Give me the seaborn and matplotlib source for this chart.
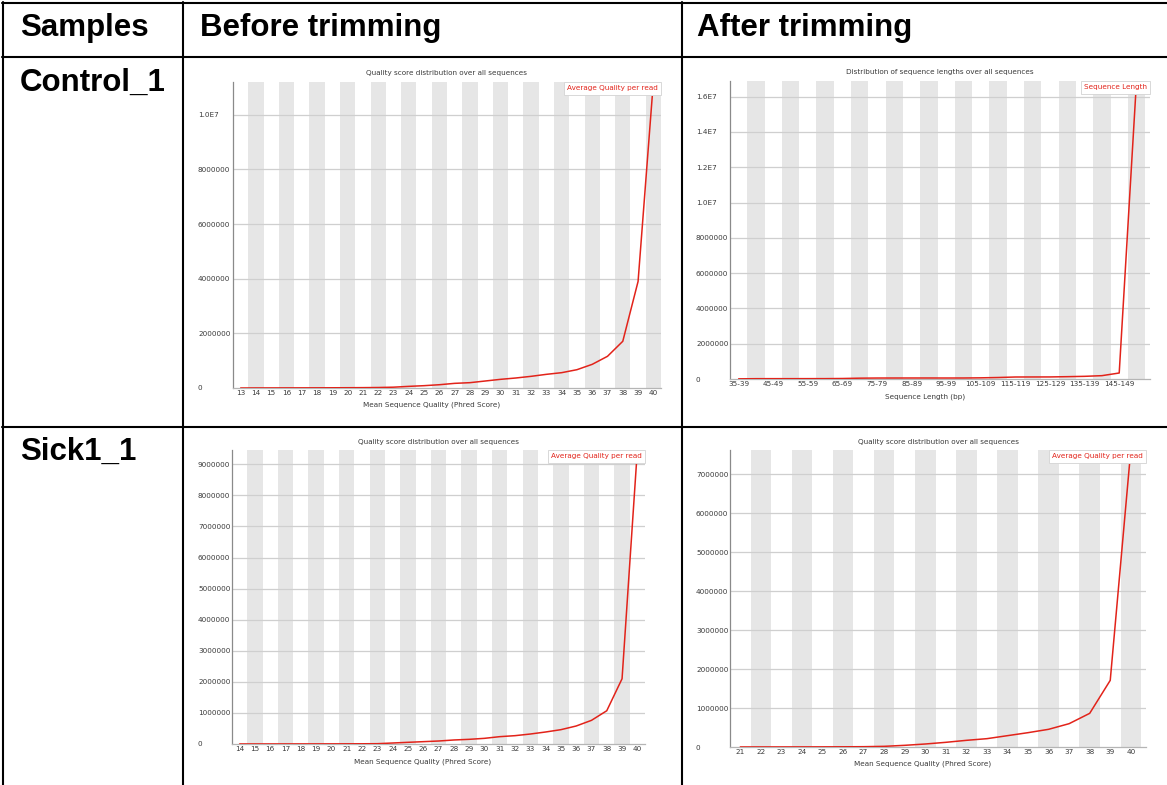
import numpy as np
import pandas as pd
import seaborn as sns
import matplotlib
matplotlib.use('Agg')
import matplotlib.pyplot as plt
from matplotlib.lines import Line2D

# Data
ctrl_before_q = [str(q) for q in range(13, 41)]
ctrl_before_counts = [0, 2000, 3000, 4000, 5000, 6000, 8000, 10000, 13000, 18000,
                      30000, 60000, 85000, 120000, 170000, 195000, 256000, 317000,
                      366000, 427000, 500000, 561000, 670000, 866000, 1160000,
                      1710000, 3900000, 11200000]

ctrl_after_len = ['35-39', '40-44', '45-49', '50-54', '55-59', '60-64', '65-69',
                  '70-74', '75-79', '80-84', '85-89', '90-94', '95-99', '100-104',
                  '105-109', '110-114', '115-119', '120-124', '125-129', '130-134',
                  '135-139', '140-144', '145-149', '150-151']
ctrl_after_counts = [9000, 18000, 19000, 19000, 20000, 21000, 28000, 47000, 55000,
                     56000, 57000, 57000, 56000, 57000, 66000, 85000, 113000, 115000,
                     117000, 132000, 151000, 189000, 340000, 16890000]

sick_before_q = [str(q) for q in range(14, 41)]
sick_before_counts = [1000, 1500, 2000, 2500, 3000, 3500, 4500, 5500, 7000, 10000,
                      32000, 54000, 75000, 96000, 129000, 150000, 182000, 236000,
                      268000, 321000, 386000, 461000, 579000, 761000, 1070000,
                      2100000, 9460000]

sick_after_q = [str(q) for q in range(21, 41)]
sick_after_counts = [1000, 1500, 2000, 2500, 3500, 5000, 8000, 17000, 43000, 77000,
                     120000, 171000, 214000, 291000, 368000, 454000, 599000, 864000,
                     1711000, 7625000]

yticks_ctrl_before = [0, 2e6, 4e6, 6e6, 8e6, 1e7]
yticks_ctrl_after = [0, 2e6, 4e6, 6e6, 8e6, 1e7, 1.2e7, 1.4e7, 1.6e7]
yticks_sick_before = [0, 1e6, 2e6, 3e6, 4e6, 5e6, 6e6, 7e6, 8e6, 9e6]
yticks_sick_after = [0, 1e6, 2e6, 3e6, 4e6, 5e6, 6e6, 7e6]

header = ['Samples', 'Before trimming', 'After trimming']
samples = ['Control_1', 'Sick1_1']

qual_title = 'Quality score distribution over all sequences'
len_title = 'Distribution of sequence lengths over all sequences'
qual_xlabel = 'Mean Sequence Quality (Phred Score)'
len_xlabel = 'Sequence Length (bp)'

sns.set_style('white')
plt.rcParams['font.family'] = ['DejaVu Sans']

W, H = 1167, 785
RED = '#e2231a'
TXT = '#3a3a3a'

fig = plt.figure(figsize=(W / 100, H / 100), dpi=100)


def ytick_text(v):
    if v >= 1e7:
        return f'{v / 1e7:.1f}E7'
    return str(int(v))


def panel(box, labels, counts, yticks, title, xlabel, legend_label,
          xmax, label_every, ylab_x, title_y, xlab_x, xlab_y):
    l, t, r, b = box
    ax = fig.add_axes([l / W, 1 - b / H, (r - l) / W, (b - t) / H])
    df = pd.DataFrame({'pos': np.arange(len(counts)), 'count': counts})

    # alternating grey bands behind every other category
    for i in range(1, len(counts), 2):
        ax.axvspan(i - 0.5, i + 0.5, color='#e6e6e6', lw=0, zorder=0)
    for v in yticks[1:]:
        ax.axhline(v, color='#cfcfcf', lw=0.9, zorder=1)

    sns.lineplot(data=df, x='pos', y='count', ax=ax, color=RED, lw=1.1,
                 zorder=3, label=legend_label)

    ax.set_xlim(-0.5, xmax)
    ax.set_ylim(0, max(counts))
    ax.set_xticks(df['pos'][::label_every])
    ax.set_xticklabels(labels[::label_every])
    ax.set_yticks(yticks)
    ax.set_yticklabels([ytick_text(v) for v in yticks])
    pad = (l - ylab_x) * 72 / 100
    ax.tick_params(axis='y', length=0, pad=pad, labelsize=5.2, labelcolor=TXT)
    ax.tick_params(axis='x', length=0, pad=1.5, labelsize=5.2, labelcolor=TXT)
    for lab in ax.get_yticklabels():
        lab.set_ha('left')
    ax.set_ylabel('')
    ax.set_xlabel(xlabel, fontsize=5.2, color=TXT, va='center')
    ax.xaxis.set_label_coords((xlab_x - l) / (r - l), -(xlab_y - b) / (b - t))
    ax.set_title('')
    fig.text((l + r) / 2 / W, 1 - title_y / H, title, fontsize=5.2, color=TXT,
             ha='center', va='center')

    for s in ['top', 'right']:
        ax.spines[s].set_visible(False)
    ax.spines['left'].set_color('#8a8a8a')
    ax.spines['left'].set_linewidth(0.9)
    ax.spines['bottom'].set_color('#b5b5b5')
    ax.spines['bottom'].set_linewidth(0.9)

    leg = ax.legend(loc='upper right', borderaxespad=0, fancybox=False,
                    handlelength=0, handletextpad=0, borderpad=0.45,
                    fontsize=5.2, labelcolor=RED, edgecolor='#d8d8d8',
                    framealpha=1)
    for h in leg.legend_handles:
        h.set_visible(False)
    leg.get_frame().set_linewidth(0.7)
    leg.set_zorder(5)
    return ax


panel((233, 82, 661, 388), ctrl_before_q, ctrl_before_counts, yticks_ctrl_before,
      qual_title, qual_xlabel, 'Average Quality per read', 27.5, 1,
      198, 73, 432, 405)
panel((730, 81, 1150, 379), ctrl_after_len, ctrl_after_counts, yticks_ctrl_after,
      len_title, len_xlabel, 'Sequence Length', 23.78, 2,
      696, 72, 925, 397)
panel((232, 450, 645, 744), sick_before_q, sick_before_counts, yticks_sick_before,
      qual_title, qual_xlabel, 'Average Quality per read', 26.5, 1,
      198, 442, 423, 762)
panel((730, 450, 1146, 747), sick_after_q, sick_after_counts, yticks_sick_after,
      qual_title, qual_xlabel, 'Average Quality per read', 19.74, 1,
      696, 442, 923, 764)

# table frame
def hline(y, x0, x1, lw=1.5):
    fig.add_artist(Line2D([x0 / W, x1 / W], [1 - y / H, 1 - y / H],
                          transform=fig.transFigure, color='black', lw=lw))


def vline(x, y0, y1, lw=1.5):
    fig.add_artist(Line2D([x / W, x / W], [1 - y0 / H, 1 - y1 / H],
                          transform=fig.transFigure, color='black', lw=lw))


hline(3, 2, W)
hline(57, 2, W)
hline(427, 2, W)
vline(3, 2, H)
vline(183, 2, H)
vline(682, 2, H)

hdr_font = dict(fontsize=22.5, fontweight='bold', family='Liberation Sans',
                color='black', va='baseline', ha='left')
for x, txt in zip([20, 200, 697], header):
    fig.text(x / W, 1 - 36 / H, txt, **hdr_font)
for y, txt in zip([91, 460], samples):
    fig.text(20 / W, 1 - y / H, txt, **hdr_font)

fig.savefig('out.png', dpi=100, facecolor='white')
